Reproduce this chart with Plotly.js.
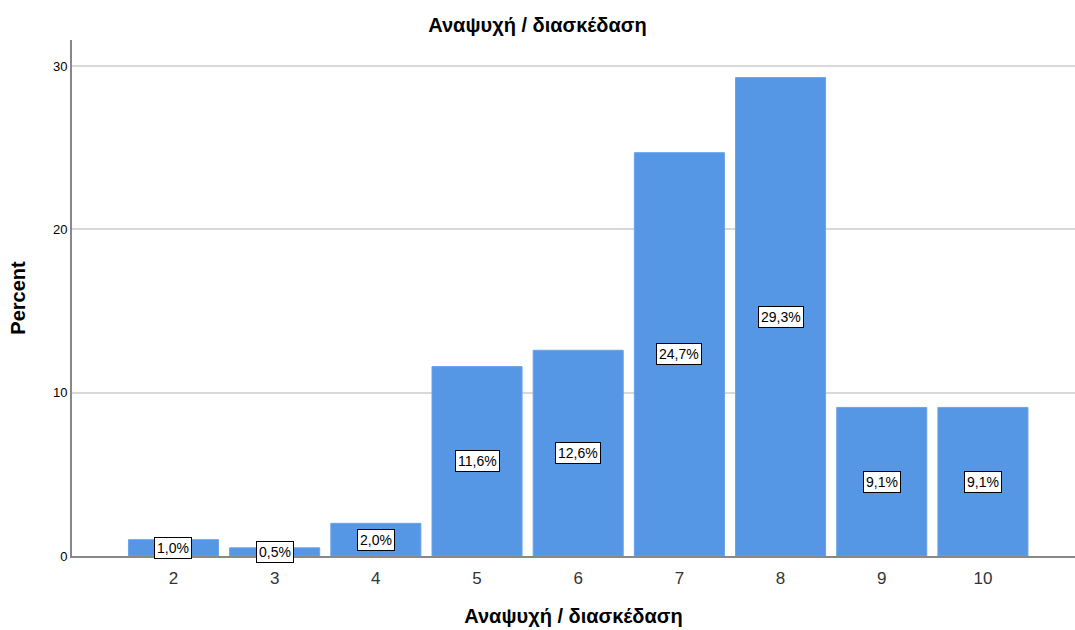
<!DOCTYPE html>
<html>
<head>
<meta charset="utf-8">
<script src="https://cdn.plot.ly/plotly-3.0.1.min.js"></script>
<style>html,body{margin:0;padding:0;background:#fff;}#chart{width:1075px;height:630px;}</style>
</head>
<body>
<div id="chart"></div>
<script>
const categories = [2, 3, 4, 5, 6, 7, 8, 9, 10];
const percents = [1.0, 0.5, 2.0, 11.6, 12.6, 24.7, 29.3, 9.1, 9.1];
const yTicks = [0, 10, 20, 30];
const titleText = 'Αναψυχή / διασκέδαση';

const fmt = v => v.toFixed(1).replace('.', ',') + '%';
const font = 'Liberation Sans, Arial, sans-serif';

const annotations = categories.map((c, i) => ({
  x: c, y: percents[i] / 2, xref: 'x', yref: 'y',
  text: fmt(percents[i]), showarrow: false,
  bgcolor: '#ffffff', bordercolor: '#000000', borderwidth: 1, borderpad: 2,
  font: {family: font, size: 14, color: '#000'}
}));

const trace = {
  type: 'bar', x: categories, y: percents, width: 0.89,
  marker: {color: '#5596E5', line: {color: '#6aa3ea', width: 1}},
  hoverinfo: 'skip'
};

const layout = {
  width: 1075, height: 630,
  margin: {l: 72, r: 0, t: 40, b: 74},
  paper_bgcolor: '#fff', plot_bgcolor: '#fff',
  title: {text: '<b>' + titleText + '</b>', x: 0.5, xanchor: 'center', y: 0.961, yanchor: 'middle',
    font: {family: font, size: 20, color: '#000'}},
  xaxis: {
    range: [0.997, 10.91], tickvals: categories, ticktext: categories.map(String),
    showgrid: false, zeroline: false, showline: true, linecolor: '#888', linewidth: 2,
    ticks: '', ticklabelstandoff: 6, tickfont: {family: font, size: 17, color: '#333'},
    title: {text: '<b>' + titleText + '</b>', font: {family: font, size: 20, color: '#000'}, standoff: 22}
  },
  yaxis: {
    range: [0, 31.6], tickvals: yTicks, ticktext: yTicks.map(String),
    showgrid: true, gridcolor: '#d9d9d9', gridwidth: 2, zeroline: false,
    showline: true, linecolor: '#888', linewidth: 2,
    ticks: '', ticklen: 0, tickfont: {family: font, size: 13, color: '#000'},
    title: {text: '<b>Percent</b>', font: {family: font, size: 20, color: '#000'}, standoff: 22}
  },
  annotations: annotations,
  showlegend: false
};

Plotly.newPlot('chart', [trace], layout, {displayModeBar: false, staticPlot: true});
</script>
</body>
</html>
